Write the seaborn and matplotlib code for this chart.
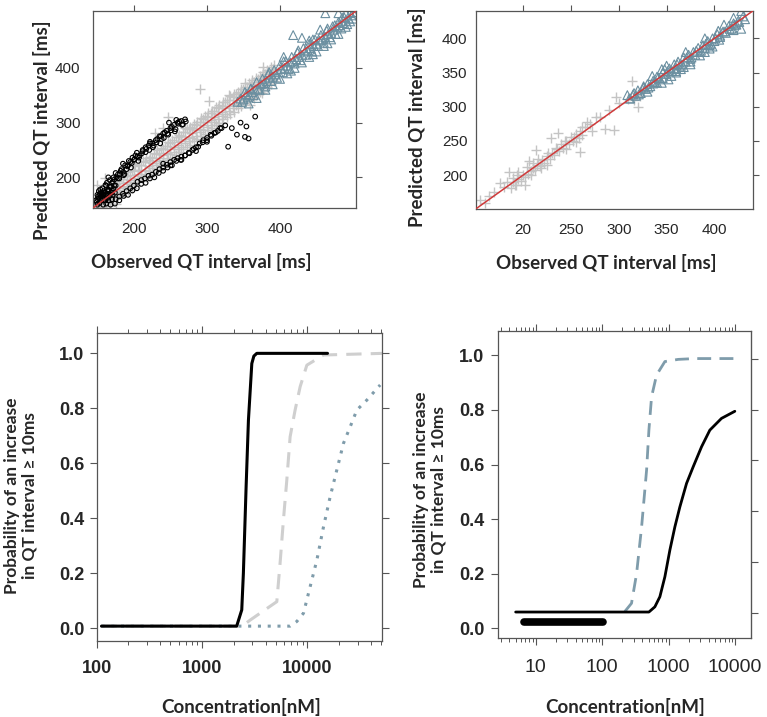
import numpy as np
import pandas as pd
import seaborn as sns
import matplotlib.pyplot as plt
from matplotlib.ticker import LogLocator, NullFormatter, FixedLocator

# ---- top-left scatter: observed vs predicted QT [ms] ----
tl_grid_a = [150,155,160,165,170,175,180,185,190,195,200,205,210,215,220,225,230,235,240,245,
             250,255,260,265,270,275,280,285,290,295,300,305,310,315,320,325,330,335,340,345,
             350,355,360,365,370,375,380,385,390]
tl_grid_b = [152,157,162,167,172,177,182,187,192,197,202,207,212,217,222,227,232,237,242,247,
             252,257,262,267,272,277,282,287,292,297,302,307,312,317,322,327,332,337,342,347,
             352,357,362,367,372,377,382,387,392]
tl_plus_row_a = [162,163,172,178,180,188,190,197,203,205,212,214,222,228,231,236,243,245,252,258,
                 262,265,273,276,282,288,290,296,302,306,311,318,322,326,331,337,341,346,352,355,
                 361,366,370,375,380,386,389,394,398]
tl_plus_row_b = [145,148,153,158,163,167,173,176,182,188,192,196,203,207,212,217,222,227,232,236,
                 242,247,252,256,262,267,272,276,282,287,292,296,302,307,312,316,322,326,332,337,
                 342,346,352,356,362,366,372,376,381]
tl_plus_row_c = [151,154,161,166,169,176,181,184,191,196,199,206,211,214,221,226,229,236,241,244,
                 251,256,259,266,271,274,281,286,289,296,301,304,311,316,319,326,331,334,341,346,
                 349,356,361,364,371,376,379,386,391]
tl_plus_row_d = [168,174,178,185,190,193,200,204,210,214,220,223,230,235,238,244,250,254,258,264,
                 268,274,278,283,288,292,298,302,308,313,318,322,328,333,338,342,348,352,356,362,
                 366,372,377,381,386,392,396,401,406]
tl_plus_row_e = [146,146,148,152,157,162,166,172,177,180,186,192,196,201,207,210,216,221,225,231,
                 236,240,246,251,256,260,266,271,276,280,286,290,296,300,306,311,316,320,326,330,
                 336,341,346,350,356,360,366,371,376]
tl_plus_out_obs = [290,303,247,229,160,149,377,359,375,176,352,200,270,320,185,330,255,240,365,385]
tl_plus_out_pred = [361,340,311,281,198,186,402,332,354,152,372,225,290,300,210,350,298,290,345,370]

tl_circ_obs = [150,152,155,157,160,162,165,167,170,172,175,178,180,183,185,188,190,193,195,198,
               200,204,208,212,216,220,225,230,235,240,245,250,255,260,265,270,248,258,238,222,
               205,185,175,165,
               154,158,163,168,173,178,182,187,192,197,202,207,212,217,222,227,232,237,242,247,
               252,257,262,267,
               156,161,166,171,176,181,186,191,196,201,206,211,216,221,226,231,236,241,246,251,
               256,261,266,271,
               158,162,165,170,175,180,185,190,195,200,205,210,215,220,225,230,235,240,245,250,
               255,260,265,270,275,280,285,290,295,300,305,310,315,320,325,265,250,285,240,300,
               168,174,180,186,192,198,204,210,216,222,228,234,240,246,252,258,264,270,276,282,
               288,294,300,306,312,318,
               148,150,152,155,156,158,160,162,164,166,168,170,172,174,150,153,
               151,153,157,159,161,163,167,169,171,173,149,155,
               329,352,357,354,366,341,334,346]
tl_circ_pred = [168,175,165,180,172,185,178,195,190,200,185,205,198,215,210,222,215,230,228,236,
                232,245,240,250,255,258,262,268,275,280,285,290,296,300,303,306,300,305,270,265,
                238,225,208,200,
                178,168,190,183,196,198,212,206,222,226,240,236,248,252,262,258,270,275,282,278,
                292,288,302,297,
                170,186,176,192,200,206,204,220,218,233,230,244,246,250,255,264,262,272,280,286,
                284,298,296,302,
                150,152,158,160,160,165,170,175,180,185,192,195,198,203,205,210,215,218,223,228,
                232,235,238,240,245,250,255,262,268,272,278,281,285,290,295,232,222,248,225,265,
                150,152,158,166,168,176,180,188,190,198,200,208,212,218,222,230,232,240,244,252,
                256,264,268,276,282,290,
                158,160,162,158,167,170,163,168,175,170,182,176,180,172,150,153,
                165,170,162,175,158,162,166,172,168,185,155,172,
                256,274,271,293,311,278,290,300]

tl_tri_obs = [342,346,350,354,358,362,366,370,374,378,382,386,390,394,398,402,406,410,414,418,
              422,426,430,434,438,442,446,450,454,458,462,466,470,474,478,482,486,490,494,498,
              380,390,400,410,420,430,440,450,460,470,480,490,500,415,445,465,
              360,385,405,425,445,465,485,500,
              348,356,364,372,380,388,396,404,412,420,428,436,444,452,460,468,476,484,492,
              352,360,368,376,384,392,400,408,416,424,432,440,448,456,464,472,480,488,496,
              418,462,496,357,430,440,475,455,405,368,480,490]
tl_tri_pred = [338,344,342,352,350,356,360,362,370,372,376,382,384,388,392,398,400,404,410,412,
               416,420,424,430,432,436,440,444,450,452,456,462,464,470,474,478,482,486,490,496,
               360,370,380,390,400,410,420,430,440,452,462,475,490,395,425,445,
               362,392,412,432,452,472,492,502,
               338,346,350,360,366,376,382,392,398,408,414,424,430,440,446,456,462,472,480,
               356,362,374,380,388,396,405,412,420,428,436,444,452,460,468,476,484,492,500,
               460,500,485,335,455,450,478,470,420,345,500,500]

# ---- top-right scatter ----
tr_plus_obs = [155,164,176,185,187,190,192,195,198,200,202,205,206,208,210,212,213,215,218,220,
               222,225,228,229,230,232,235,237,238,240,242,245,248,250,252,255,258,260,260,262,
               265,267,270,276,280,286,290,295,297,300,310,314,318,320,322,325,316,202,180,170,
               160,195,210,225,245,255,262,272,183,189,194,204,216,226,234,244,253,193,208,219]
tr_plus_pred = [164,169,188,205,181,190,186,195,192,200,198,202,220,206,210,208,237,215,213,222,
                218,228,224,254,232,230,238,261,235,245,240,250,245,256,250,260,255,234,264,258,
                270,278,275,285,285,268,295,266,314,305,312,338,320,300,315,325,310,185,182,175,
                160,205,218,215,238,248,270,265,190,196,200,212,224,232,240,250,256,186,200,210]

tr_tri_obs = [309,312,315,318,320,323,326,328,330,333,336,338,340,343,346,348,350,353,355,358,
              360,362,365,368,370,373,375,378,380,383,385,388,390,393,395,398,400,403,404,406,
              409,412,415,418,420,423,425,428,430,432,340,355,365,375,385,395,335,350,370,390,
              420,428,410,360,345,
              311,316,321,326,331,336,341,346,351,356,361,366,371,376,381,386,391,396,401,406,
              411,416,421,426,330,345,360,375,390,405,420,352,368,398]
tr_tri_pred = [317,312,318,316,324,320,328,326,333,330,338,336,344,340,350,355,348,356,352,362,
               356,366,360,372,366,376,370,380,376,386,380,390,386,396,390,400,396,406,411,402,
               410,408,418,414,422,420,426,414,432,428,335,345,355,362,375,385,345,360,380,400,
               430,440,420,350,355,
               312,320,318,330,328,334,342,342,352,352,362,362,372,372,382,382,392,392,400,404,
               410,414,420,424,322,335,352,366,380,398,412,340,358,388]

# ---- bottom-left: probability curves vs concentration ----
bl_conc_solid = [111, 2130, 2380, 2466, 2618, 2754, 2965, 3100, 3305, 15500]
bl_prob_solid = [0.008, 0.008, 0.067, 0.2, 0.515, 0.757, 0.963, 0.99, 1.0, 1.0]
bl_conc_dash = [111, 2400, 2860, 5120, 5500, 5920, 6370, 6850, 7640, 8530, 9870, 14190, 52000]
bl_prob_dash = [0.008, 0.008, 0.03, 0.097, 0.237, 0.395, 0.539, 0.697, 0.794, 0.879, 0.957, 0.994, 1.0]
bl_conc_dot = [111, 6850, 7930, 9170, 10600, 12280, 14200, 16440, 19000, 21990, 25450, 29450, 36600, 49000]
bl_prob_dot = [0.008, 0.008, 0.025, 0.055, 0.151, 0.248, 0.369, 0.479, 0.576, 0.673, 0.733, 0.794, 0.830, 0.885]

# ---- bottom-right ----
br_conc_solid = [5.0, 506, 622, 740, 880, 1047, 1245, 1480, 1865, 2350, 3135, 4180, 6260, 9940]
br_prob_solid = [0.06, 0.06, 0.079, 0.116, 0.189, 0.287, 0.372, 0.445, 0.531, 0.592, 0.665, 0.726, 0.769, 0.795]
br_conc_dash = [220, 277, 330, 393, 467, 506, 555, 660, 880, 1397, 2490, 9940]
br_prob_dash = [0.062, 0.092, 0.2, 0.372, 0.58, 0.726, 0.848, 0.928, 0.977, 0.985, 0.988, 0.988]
br_bar_conc = [6.75, 104]
br_bar_prob = [0.022, 0.022]
br_right_ticks = [0.058, 0.244, 0.431, 0.615, 0.8, 0.988]

xlab_qt = "Observed QT interval [ms]"
ylab_qt = "Predicted QT interval [ms]"
xlab_conc = "Concentration[nM]"
ylab_prob = "Probability of an increase\nin QT interval \u2265 10ms"

sns.set_style("white")
plt.rcParams['font.family'] = ['Liberation Sans', 'DejaVu Sans']

GRAY = "#c4c4c4"
BLUE = "#6b8fa0"
RED = "#d03a3a"
FRAME = "#555555"
LAB = dict(family=['Lato', 'DejaVu Sans'], weight='bold')

fig = plt.figure(figsize=(7.67, 7.17), dpi=100)
W, H = 767, 717


def add_ax(x0, y0, x1, y1):
    return fig.add_axes([x0 / W, 1 - y1 / H, (x1 - x0) / W, (y1 - y0) / H])


def frame(ax):
    for s in ax.spines.values():
        s.set_color(FRAME)
        s.set_linewidth(0.9)


def scatter_panel(ax, groups, lim, ticks, labels):
    for obs, pred, mk, col, sz in groups:
        df = pd.DataFrame({"obs": obs, "pred": pred})
        if mk == "+":
            sns.scatterplot(data=df, x="obs", y="pred", marker="+", color=col, s=sz,
                            linewidth=1.0, ax=ax)
        else:
            sns.scatterplot(data=df, x="obs", y="pred", marker=mk, facecolors="none",
                            edgecolor=col, s=sz, linewidth=0.8, ax=ax)
    ax.axline((lim[0], lim[0]), slope=1, color=RED, lw=1.1, zorder=5)
    ax.set_xlim(lim)
    ax.set_ylim(lim)
    ax.set_xticks(ticks)
    ax.set_yticks(ticks)
    ax.set_xticklabels(labels)
    ax.set_yticklabels([str(t) for t in ticks])
    ax.set_xlabel("")
    ax.set_ylabel("")
    ax.tick_params(bottom=False, left=False, top=True, right=True, labelbottom=True,
                   labelleft=True, direction="out", length=4, width=0.8, color=FRAME,
                   labelsize=11, pad=3)
    frame(ax)


tl_plus_obs = tl_grid_a * 3 + tl_grid_b * 2 + tl_plus_out_obs
tl_plus_pred = tl_plus_row_a + tl_plus_row_b + tl_plus_row_c + tl_plus_row_d + tl_plus_row_e + tl_plus_out_pred

ax1 = add_ax(93, 11, 356, 208)
scatter_panel(ax1, [(tl_plus_obs, tl_plus_pred, "+", GRAY, 50),
                    (tl_circ_obs, tl_circ_pred, "o", "black", 11),
                    (tl_tri_obs, tl_tri_pred, "^", BLUE, 40)],
              (144, 504), [200, 300, 400], ["200", "300", "400"])
ax1.tick_params(axis="x", pad=6)
ax1.tick_params(axis="y", pad=5)

ax2 = add_ax(475.7, 11, 752.7, 209)
scatter_panel(ax2, [(tr_plus_obs, tr_plus_pred, "+", GRAY, 50),
                    (tr_tri_obs, tr_tri_pred, "^", BLUE, 40)],
              (150.5, 440), [200, 250, 300, 350, 400], ["20", "250", "300", "350", "400"])
ax2.tick_params(axis="x", pad=6)
ax2.tick_params(axis="y", pad=2)

fig.text(201.7 / W, 1 - 262 / H, xlab_qt, ha="center", va="center", fontsize=13.5, **LAB)
fig.text(41.7 / W, 1 - 130 / H, ylab_qt, ha="center", va="center", rotation=90, fontsize=13.5, **LAB)
fig.text(606.7 / W, 1 - 263 / H, xlab_qt, ha="center", va="center", fontsize=13.5, **LAB)
fig.text(416.7 / W, 1 - 117.5 / H, ylab_qt, ha="center", va="center", rotation=90, fontsize=13.5, **LAB)


def prob_panel(ax, xlim, ylim):
    ax.set_xscale("log")
    ax.set_xlim(xlim)
    ax.set_ylim(ylim)
    ax.set_yticks([0.0, 0.2, 0.4, 0.6, 0.8, 1.0])
    ax.set_yticklabels(["0.0", "0.2", "0.4", "0.6", "0.8", "1.0"], fontweight="bold")
    ax.xaxis.set_minor_locator(LogLocator(base=10, subs=np.arange(2, 10), numticks=20))
    ax.xaxis.set_minor_formatter(NullFormatter())
    ax.set_xlabel("")
    ax.set_ylabel("")
    ax.tick_params(which="major", direction="out", length=5, width=0.8, color=FRAME,
                   top=True, bottom=True, left=True, labelsize=13)
    ax.tick_params(which="minor", direction="out", length=3, width=0.7, color=FRAME,
                   top=True, bottom=True)
    frame(ax)


ax3 = add_ax(96.7, 333, 382, 640.7)
sns.lineplot(x=bl_conc_dot, y=bl_prob_dot, color="#7f9cab", lw=2.2,
             linestyle=(0, (1, 2.2)), ax=ax3)
sns.lineplot(x=bl_conc_dash, y=bl_prob_dash, color="#cfcfcf", lw=2.2,
             linestyle=(0, (5, 3)), ax=ax3)
sns.lineplot(x=bl_conc_solid, y=bl_prob_solid, color="black", lw=2.2, ax=ax3)
prob_panel(ax3, (100, 51000), (-0.045, 1.074))
ax3.set_xticks([100, 1000, 10000])
ax3.set_xticklabels(["100", "1000", "10000"], fontweight="bold")
ax3.tick_params(right=True, which="major")
ax3.tick_params(axis="x", pad=9)
ax3.tick_params(axis="y", pad=4)

ax4 = add_ax(498.3, 330.7, 751, 637.7)
sns.lineplot(x=br_conc_dash, y=br_prob_dash, color="#7f9cab", lw=2.0,
             linestyle=(0, (5, 3)), ax=ax4)
sns.lineplot(x=br_conc_solid, y=br_prob_solid, color="black", lw=2.0, ax=ax4)
sns.lineplot(x=br_bar_conc, y=br_bar_prob, color="black", lw=5.5,
             solid_capstyle="round", ax=ax4)
prob_panel(ax4, (2.74, 17400), (-0.034, 1.09))
ax4.set_xticks([10, 100, 1000, 10000])
ax4.set_xticklabels(["10", "100", "1000", "10000"], fontsize=14)
ax4.tick_params(axis="x", pad=10)
ax4.tick_params(axis="y", pad=5)
sec = ax4.secondary_yaxis("right")
sec.yaxis.set_major_locator(FixedLocator(br_right_ticks))
sec.set_yticklabels([])
sec.tick_params(direction="out", length=5, width=0.8, color=FRAME)
sec.spines["right"].set_color(FRAME)

fig.text(240.8 / W, 1 - 706.7 / H, xlab_conc, ha="center", va="center", fontsize=13.5, **LAB)
fig.text(625 / W, 1 - 706.7 / H, xlab_conc, ha="center", va="center", fontsize=13.5, **LAB)
fig.text(21 / W, 1 - 495.5 / H, ylab_prob, ha="center", va="center", rotation=90,
         fontsize=12.5, linespacing=1.1, **LAB)
fig.text(430 / W, 1 - 489.5 / H, ylab_prob, ha="center", va="center", rotation=90,
         fontsize=12.5, linespacing=1.1, **LAB)

fig.savefig("out.png", dpi=100)
